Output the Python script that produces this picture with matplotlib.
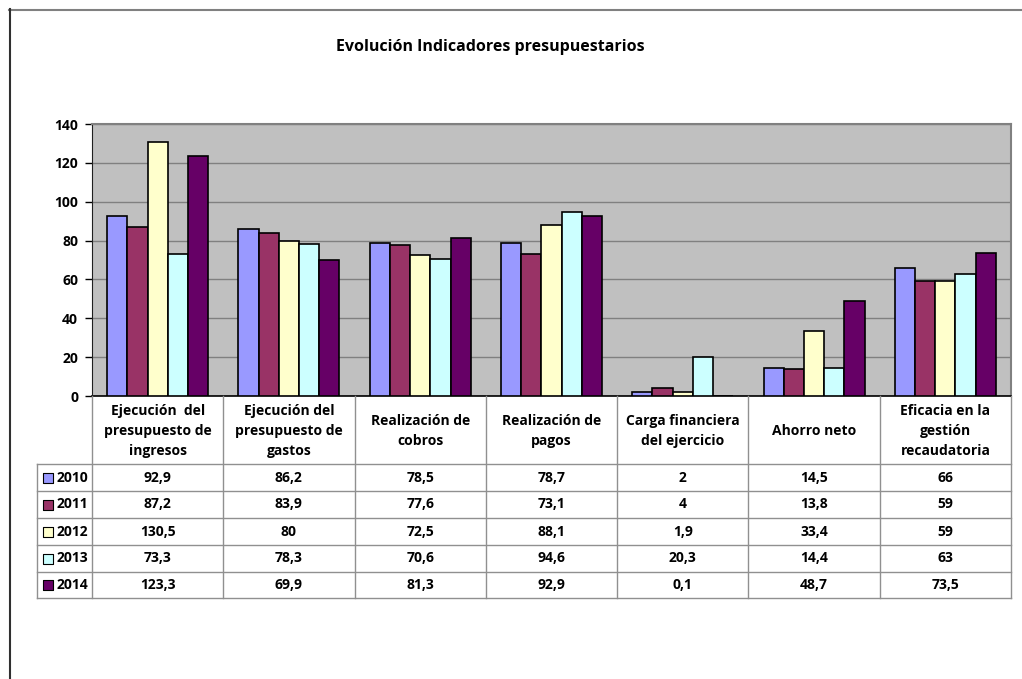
import matplotlib.pyplot as plt
from matplotlib.lines import Line2D
import numpy as np

plt.rcParams['font.family'] = ['Open Sans', 'DejaVu Sans']
plt.rcParams['font.weight'] = 'bold'

categories = ["Ejecución  del\npresupuesto de\ningresos",
              "Ejecución del\npresupuesto de\ngastos",
              "Realización de\ncobros",
              "Realización de\npagos",
              "Carga financiera\ndel ejercicio",
              "Ahorro neto",
              "Eficacia en la\ngestión\nrecaudatoria"]
years = ["2010", "2011", "2012", "2013", "2014"]
v2010 = [92.9, 86.2, 78.5, 78.7, 2, 14.5, 66]
v2011 = [87.2, 83.9, 77.6, 73.1, 4, 13.8, 59]
v2012 = [130.5, 80, 72.5, 88.1, 1.9, 33.4, 59]
v2013 = [73.3, 78.3, 70.6, 94.6, 20.3, 14.4, 63]
v2014 = [123.3, 69.9, 81.3, 92.9, 0.1, 48.7, 73.5]
series = [v2010, v2011, v2012, v2013, v2014]
colors = ["#9999FF", "#993366", "#FFFFCC", "#CCFFFF", "#660066"]

W, H = 1022, 679
fig = plt.figure(figsize=(W / 100, H / 100), dpi=100)

# outer frame (top and left only, chart is clipped)
fig.add_artist(Line2D([9 / W, 1], [1 - 9.5 / H, 1 - 9.5 / H], color="#808080", lw=1.5))
fig.add_artist(Line2D([9.5 / W, 9.5 / W], [0, 1 - 9 / H], color="#303030", lw=1.5))

px_l, px_r, px_t, px_b = 92, 1011, 124, 396
ax = fig.add_axes([px_l / W, 1 - px_b / H, (px_r - px_l) / W, (px_b - px_t) / H])
ax.set_facecolor("#C0C0C0")

n = len(series)
bw = 1 / (n + 1.5)
x = np.arange(len(categories))
for i, (vals, c) in enumerate(zip(series, colors)):
    ax.bar(x + (i - (n - 1) / 2) * bw, vals, bw, color=c, edgecolor="black", lw=1.2, zorder=3)

ax.set_xlim(-0.5, len(categories) - 0.5)
ax.set_ylim(0, 140)
ax.set_yticks(range(0, 141, 20))
ax.set_xticks([])
ax.yaxis.grid(True, color="#808080", lw=1, zorder=0)
ax.tick_params(axis="y", direction="out", length=5, width=1, labelsize=10, pad=5)
for lab in ax.get_yticklabels():
    lab.set_fontweight("bold")
for s in ["top", "right"]:
    ax.spines[s].set_color("#808080")
    ax.spines[s].set_linewidth(1.5)
ax.spines["left"].set_color("#202020")
ax.spines["bottom"].set_color("#000000")
ax.spines["bottom"].set_linewidth(1.2)

fig.text(490 / W, 1 - 47 / H, "Evolución Indicadores presupuestarios",
         ha="center", va="center", fontsize=11.5, fontweight="bold")

# data table
tb_l, tb_b = 37, 598
unit = (px_r - px_l) / len(categories)
tax = fig.add_axes([tb_l / W, 1 - tb_b / H, (px_r - tb_l) / W, (tb_b - px_b) / H])
tax.set_xlim(-0.5 - (px_l - tb_l) / unit, len(categories) - 0.5)
tax.set_ylim(tb_b, px_b)
tax.axis("off")
lc = "#909090"
xl = -0.5 - (px_l - tb_l) / unit
row_lines = [464, 491, 518, 545, 572, 598]
for yy in row_lines:
    tax.plot([xl, len(categories) - 0.5], [yy, yy], color=lc, lw=1, clip_on=False)
tax.plot([xl, xl], [464, 598], color=lc, lw=1, clip_on=False)
for k in range(len(categories) + 1):
    tax.plot([k - 0.5, k - 0.5], [px_b, 598], color=lc, lw=1, clip_on=False)

for k, cat in enumerate(categories):
    tax.text(k, 431, cat, ha="center", va="center", fontsize=10,
             fontweight="bold", linespacing=1.55)

for r, (yr, vals, c) in enumerate(zip(years, series, colors)):
    yc = (row_lines[r] + row_lines[r + 1]) / 2
    kx = xl + 11 / unit
    tax.scatter([kx], [yc], s=45, marker="s", color=c, edgecolor="black",
                lw=0.8, clip_on=False, zorder=3)
    tax.text(xl + 19.5 / unit, yc, yr, ha="left", va="center", fontsize=10, fontweight="bold")
    for k, v in enumerate(vals):
        tax.text(k, yc, f"{v:g}".replace(".", ","), ha="center", va="center",
                 fontsize=10, fontweight="bold")

fig.savefig("out.png", dpi=100)
